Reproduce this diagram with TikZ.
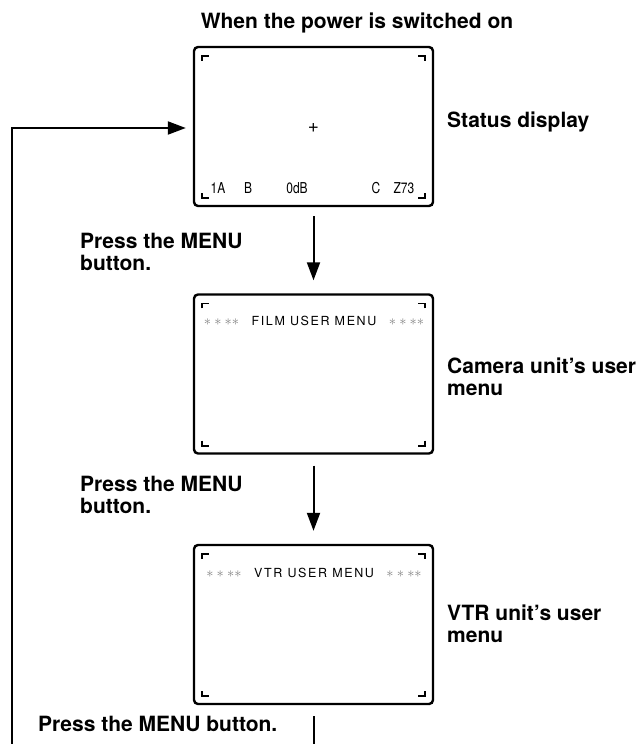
\documentclass[tikz,border=0pt]{standalone}
\usepackage{fontspec}
\setmainfont{TeX Gyre Heros}
\newfontfamily\lcdfont[FakeStretch=0.8]{TeX Gyre Heros}
\newfontfamily\menufont[LetterSpace=13]{TeX Gyre Heros}
\usetikzlibrary{arrows.meta}

\tikzset{
	screen/.style={draw, line width=2.4pt, rounded corners=4pt, minimum width=239pt, minimum height=159pt, inner sep=0pt},
	infotext/.style={font=\bfseries\fontsize{21}{22}\selectfont, align=left, anchor=north west, inner sep=0pt},
	lcd/.style={font=\lcdfont\fontsize{15}{15}\selectfont, anchor=base, inner sep=0pt},
	menutitle/.style={font=\menufont\fontsize{12.5}{13}\selectfont, anchor=base, inner sep=0pt},
	flow/.style={line width=2pt, -{Triangle[length=18pt,width=13pt]}},
	corner/.style={line width=1.6pt}
}
\newcommand{\fourstars}{\textcolor{gray}{\fontsize{14}{14}\selectfont$\ast\ast\ast\ast$}}

\begin{document}
\begin{tikzpicture}[x=1pt,y=-1pt]
	\useasboundingbox (0,0) rectangle (640,744);

	\node[font=\bfseries\fontsize{21}{22}\selectfont, anchor=base, inner sep=0pt] (title) at (357,28) {When the power is switched on};

	\node[screen] (status) at (313.5,126.5) {};
	\node[screen] (film) at (313.5,374) {};
	\node[screen] (vtr) at (313.5,624.5) {};

	% corner marks of the screens
	\foreach \b in {status,film,vtr}{
		\draw[corner] ([shift={(9,15)}]\b.north west) -- ++(0,-5) -- ++(7,0);
		\draw[corner] ([shift={(-9,15)}]\b.north east) -- ++(0,-5) -- ++(-7,0);
		\draw[corner] ([shift={(9,-14)}]\b.south west) -- ++(0,5) -- ++(7,0);
		\draw[corner] ([shift={(-9,-14)}]\b.south east) -- ++(0,5) -- ++(-7,0);
	}

	% status display
	\node[lcd, anchor=center, font=\fontsize{19}{19}\selectfont] (cross) at (313.5,128) {+};
	\node[lcd] (chA) at (218,193) {1A};
	\node[lcd] (chB) at (248,193) {B};
	\node[lcd] (gain) at (297,193) {0dB};
	\node[lcd] (filt) at (376,193) {C};
	\node[lcd] (zoomval) at (404,193) {Z73};

	% menu titles
	\node[menutitle] (filmtitle) at (314,325) {\fourstars\quad FILM USER MENU\quad\fourstars};
	\node[menutitle] (vtrtitle) at (314,577) {\fourstars\quad VTR USER MENU\quad\fourstars};

	% labels
	\node[infotext] (statuslbl) at (447,112) {Status display};
	\node[infotext] (filmlbl) at (447,358) {Camera unit’s user\\menu};
	\node[infotext] (vtrlbl) at (447,605) {VTR unit’s user\\menu};
	\node[infotext] (press1) at (80,233) {Press the MENU\\button.};
	\node[infotext] (press2) at (80,476) {Press the MENU\\button.};
	\node[infotext] (press3) at (38,716) {Press the MENU button.};

	% connectors
	\coordinate (pageend) at (313.5,744);
	\coordinate (loopstart) at (12,744);
	\draw[flow, shorten <=9pt, shorten >=13pt] (status) -- (film);
	\draw[flow, shorten <=11pt, shorten >=13pt] (film) -- (vtr);
	\draw[line width=2pt, shorten <=11pt] (vtr) -- (pageend);
	\draw[flow, shorten >=7pt] (loopstart) |- ([yshift=-1.5pt]status.west);
\end{tikzpicture}
\end{document}
